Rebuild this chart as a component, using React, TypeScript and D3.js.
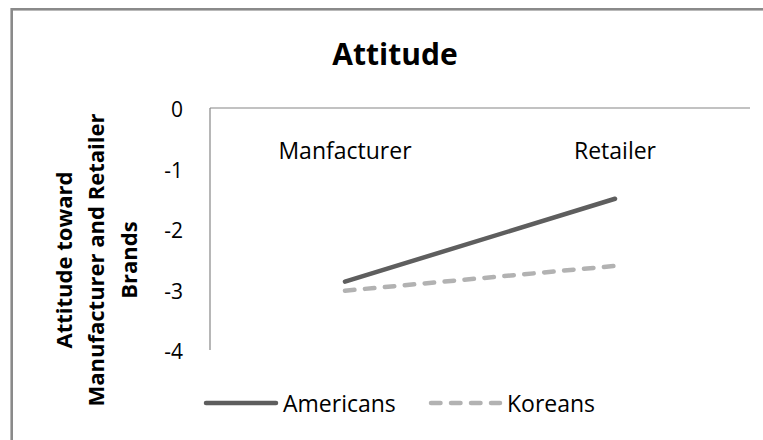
import React from "react";
import * as d3 from "d3";

const categories = ["Manfacturer", "Retailer"];
const americans = [-2.87, -1.5];
const koreans = [-3.02, -2.61];
const yTicks = [0, -1, -2, -3, -4];
const seriesNames = ["Americans", "Koreans"];

const W = 763;
const H = 440;
const FONT = "'Open Sans', 'Noto Sans', sans-serif";

export default function App() {
  const plot = { left: 210, right: 750, top: 108, bottom: 350 };
  const x = d3
    .scaleBand<string>()
    .domain(categories)
    .range([plot.left, plot.right]);
  const y = d3.scaleLinear().domain([-4, 0]).range([plot.bottom, plot.top]);
  const cx = (c: string) => (x(c) ?? 0) + x.bandwidth() / 2;

  const line = d3
    .line<number>()
    .x((_, i) => cx(categories[i]))
    .y((d) => y(d));

  const series = [
    { name: seriesNames[0], values: americans, color: "#5e5e5e", dash: undefined as string | undefined },
    { name: seriesNames[1], values: koreans, color: "#b2b2b2", dash: "9.5 10.5" },
  ];

  const legendItems = [
    { x0: 206, x1: 276, tx: 283 },
    { x0: 431, x1: 500, tx: 507 },
  ];

  return (
    <svg
      width={W}
      height={H}
      style={{ position: "absolute", left: 0, top: 0, display: "block", background: "#fff" }}
      fontFamily={FONT}
    >
      <rect x={0} y={0} width={W} height={H} fill="#fff" />
      {/* chart frame */}
      <rect x={11.7} y={9.3} width={900} height={600} fill="none" stroke="#8a8a8a" strokeWidth={2.6} />

      {/* title */}
      <text x={395} y={65} textAnchor="middle" fontSize={30} fontWeight={700} fill="#000">
        Attitude
      </text>

      {/* axes */}
      <line x1={plot.left} x2={plot.right} y1={y(0)} y2={y(0)} stroke="#868686" strokeWidth={1.2} />
      <line x1={plot.left} x2={plot.left} y1={plot.top} y2={plot.bottom} stroke="#868686" strokeWidth={1.2} />

      {/* y tick labels */}
      {yTicks.map((t) => (
        <text key={t} x={183} y={y(t) + 9} textAnchor="end" fontSize={21} fill="#000">
          {t === 0 ? "0" : `-${Math.abs(t)}`}
        </text>
      ))}

      {/* category labels */}
      {categories.map((c) => (
        <text key={c} x={cx(c)} y={159} textAnchor="middle" fontSize={23} fill="#000">
          {c}
        </text>
      ))}

      {/* y axis title */}
      <g transform="translate(0,260) rotate(-90)">
        <text x={0} y={72} textAnchor="middle" fontSize={22} fontWeight={700} fill="#000">
          Attitude toward
        </text>
        <text x={0} y={104} textAnchor="middle" fontSize={22} fontWeight={700} fill="#000">
          Manufacturer and Retailer
        </text>
        <text x={0} y={137} textAnchor="middle" fontSize={22} fontWeight={700} fill="#000">
          Brands
        </text>
      </g>

      {/* series lines */}
      {series.map((s) => (
        <path
          key={s.name}
          d={line(s.values) ?? ""}
          fill="none"
          stroke={s.color}
          strokeWidth={4.5}
          strokeDasharray={s.dash}
          strokeLinecap="round"
        />
      ))}

      {/* legend */}
      {series.map((s, i) => (
        <g key={s.name}>
          <line
            x1={legendItems[i].x0}
            x2={legendItems[i].x1}
            y1={403}
            y2={403}
            stroke={s.color}
            strokeWidth={4.5}
            strokeDasharray={s.dash}
            strokeLinecap="round"
          />
          <text x={legendItems[i].tx} y={412} fontSize={23} fill="#000">
            {s.name}
          </text>
        </g>
      ))}
    </svg>
  );
}
